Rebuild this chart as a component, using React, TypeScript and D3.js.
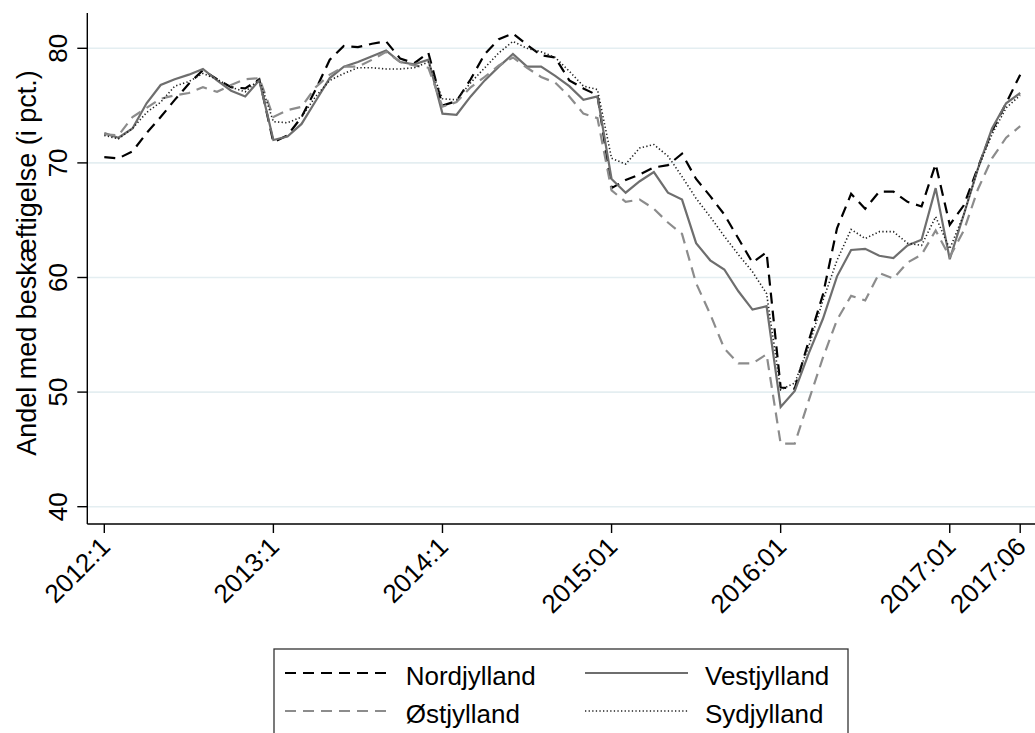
import React from "react";
import * as d3 from "d3";

const W = 1035;
const H = 733;

const tickLabels = ["2012:1", "2013:1", "2014:1", "2015:01", "2016:01", "2017:01", "2017:06"];
const tickIndex = [0, 12, 24, 36, 48, 60, 65];
const yTicks = [40, 50, 60, 70, 80];

const nordjylland = [
  70.5, 70.4, 71.0, 72.6, 74.0, 75.5, 76.9, 78.1, 77.3, 76.6, 76.5, 77.3,
  71.8, 72.4, 74.0, 76.4, 79.0, 80.2, 80.1, 80.4, 80.6, 79.1, 78.7, 79.6,
  75.0, 75.4, 77.3, 79.5, 80.8, 81.3, 80.3, 79.4, 79.2, 77.2, 76.5, 75.9,
  67.8, 68.5, 69.0, 69.6, 69.8, 70.8, 68.6, 67.1, 65.5, 63.4, 61.3, 62.2,
  50.4, 50.3, 54.5, 58.5, 64.3, 67.3, 66.0, 67.5, 67.5, 66.6, 66.2, 69.9,
  64.6, 66.3, 69.6, 72.8, 75.2, 77.7,
];

const vestjylland = [
  72.6, 72.2, 73.0, 75.2, 76.8, 77.3, 77.7, 78.2, 77.2, 76.3, 75.8, 77.2,
  72.0, 72.3, 73.4, 75.4, 77.4, 78.4, 78.8, 79.3, 79.8, 78.8, 78.6, 79.0,
  74.3, 74.2, 75.8, 77.2, 78.4, 79.5, 78.4, 78.4, 77.6, 76.7, 75.5, 75.8,
  68.6, 67.4, 68.4, 69.2, 67.4, 66.8, 63.0, 61.5, 60.7, 58.8, 57.2, 57.5,
  48.7, 50.1, 53.4, 56.4, 60.1, 62.4, 62.5, 61.9, 61.7, 62.8, 63.3, 67.8,
  61.6, 65.5, 69.5, 73.0, 75.2, 76.1,
];

const ostjylland = [
  72.5, 72.4, 74.0, 74.8, 75.6, 75.9, 76.1, 76.6, 76.2, 76.8, 77.3, 77.4,
  74.0, 74.6, 74.9, 76.6, 77.7, 78.4, 78.4, 79.0, 79.7, 78.8, 78.5, 78.3,
  74.9, 75.3, 76.6, 77.5, 78.5, 79.2, 78.3, 77.5, 77.0, 75.8, 74.3, 73.9,
  67.6, 66.6, 66.8, 66.0, 64.8, 63.8, 59.5, 56.8, 53.8, 52.5, 52.5, 53.3,
  45.5, 45.5, 49.3, 53.0, 56.3, 58.4, 58.0, 60.4, 59.9, 61.3, 62.0, 64.1,
  61.8, 64.1, 67.7, 70.4, 72.2, 73.2,
];

const sydjylland = [
  72.4, 72.1, 73.0, 74.4, 75.3, 76.7, 77.1, 77.8, 77.3, 76.6, 76.2, 77.3,
  73.6, 73.5, 74.0, 75.8, 77.2, 77.8, 78.3, 78.3, 78.2, 78.2, 78.3, 78.8,
  75.6, 75.5, 77.0, 78.3, 79.6, 80.6, 80.0, 79.7, 79.2, 78.0, 76.7, 76.4,
  70.4, 69.9, 71.3, 71.6, 70.6, 68.8, 66.9, 65.3, 63.6, 62.0, 60.5, 58.6,
  50.2, 50.8, 54.0, 58.0, 61.5, 64.2, 63.4, 64.0, 64.0, 63.0, 62.8, 65.3,
  62.5, 65.5, 69.5, 72.5, 74.8, 75.9,
];

const seriesNames = ["Nordjylland", "Vestjylland", "Østjylland", "Sydjylland"];

const FONT = "'Liberation Sans', Arial, Helvetica, sans-serif";

export default function App() {
  const x = d3.scaleLinear().domain([0, 65]).range([104.3, 1020.2]);
  const y = d3.scaleLinear().domain([40, 80]).range([506.7, 48.3]);

  const line = d3
    .line<number>()
    .x((_, i) => x(i))
    .y((d) => y(d));

  const styles = [
    { data: nordjylland, stroke: "#000", width: 2.2, dash: "11,7" },
    { data: vestjylland, stroke: "#6e6e6e", width: 2.2, dash: "none" },
    { data: ostjylland, stroke: "#8c8c8c", width: 2.2, dash: "11,7" },
    { data: sydjylland, stroke: "#222", width: 1.6, dash: "1.3,2.3" },
  ];

  const axisLeft = 87.3;
  const axisBottom = 524;
  const axisTop = 13;

  const legendPos = [
    { lx1: 285, lx2: 388, tx: 405.7, ly: 673, ty: 685 },
    { lx1: 585, lx2: 688, tx: 705, ly: 673, ty: 685 },
    { lx1: 285, lx2: 388, tx: 405.7, ly: 711, ty: 723 },
    { lx1: 585, lx2: 688, tx: 705, ly: 711, ty: 723 },
  ];

  return (
    <svg
      width={W}
      height={H}
      style={{ position: "absolute", left: 0, top: 0, background: "#fff" }}
      fontFamily={FONT}
    >
      <rect x={0} y={0} width={W} height={H} fill="#fff" />
      {/* gridlines */}
      {yTicks.map((t) => (
        <line
          key={"g" + t}
          x1={axisLeft}
          x2={W}
          y1={y(t)}
          y2={y(t)}
          stroke="#e4eef1"
          strokeWidth={1.6}
        />
      ))}
      {/* series */}
      {styles.map((s, k) => (
        <path
          key={"s" + k}
          d={line(s.data) || ""}
          fill="none"
          stroke={s.stroke}
          strokeWidth={s.width}
          strokeDasharray={s.dash}
          strokeLinejoin="miter"
        />
      ))}
      {/* axes */}
      <line x1={axisLeft} x2={axisLeft} y1={axisTop} y2={axisBottom} stroke="#000" strokeWidth={1.4} />
      <line x1={axisLeft} x2={W} y1={axisBottom} y2={axisBottom} stroke="#000" strokeWidth={1.4} />
      {yTicks.map((t) => (
        <g key={"yt" + t}>
          <line x1={axisLeft - 10} x2={axisLeft} y1={y(t)} y2={y(t)} stroke="#000" strokeWidth={1.4} />
          <text
            transform={`translate(67,${y(t)}) rotate(-90)`}
            textAnchor="middle"
            fontSize={26}
            fill="#000"
          >
            {t}
          </text>
        </g>
      ))}
      {tickIndex.map((ti, k) => (
        <g key={"xt" + k}>
          <line x1={x(ti)} x2={x(ti)} y1={axisBottom} y2={axisBottom + 9} stroke="#000" strokeWidth={1.4} />
          <text
            transform={`translate(${x(ti) + 1},542) rotate(-45)`}
            textAnchor="end"
            dominantBaseline="central"
            fontSize={26}
            fill="#000"
          >
            {tickLabels[k]}
          </text>
        </g>
      ))}
      <text
        transform={`translate(36,263) rotate(-90)`}
        textAnchor="middle"
        fontSize={27}
        fill="#000"
      >
        Andel med beskæftigelse (i pct.)
      </text>
      {/* legend */}
      <rect x={274} y={649} width={574} height={100} fill="#fff" stroke="#333" strokeWidth={1.3} />
      {styles.map((s, k) => (
        <g key={"lg" + k}>
          <line
            x1={legendPos[k].lx1}
            x2={legendPos[k].lx2}
            y1={legendPos[k].ly}
            y2={legendPos[k].ly}
            stroke={s.stroke}
            strokeWidth={s.width}
            strokeDasharray={s.dash}
          />
          <text x={legendPos[k].tx} y={legendPos[k].ty} fontSize={26} fill="#000">
            {seriesNames[k]}
          </text>
        </g>
      ))}
    </svg>
  );
}
